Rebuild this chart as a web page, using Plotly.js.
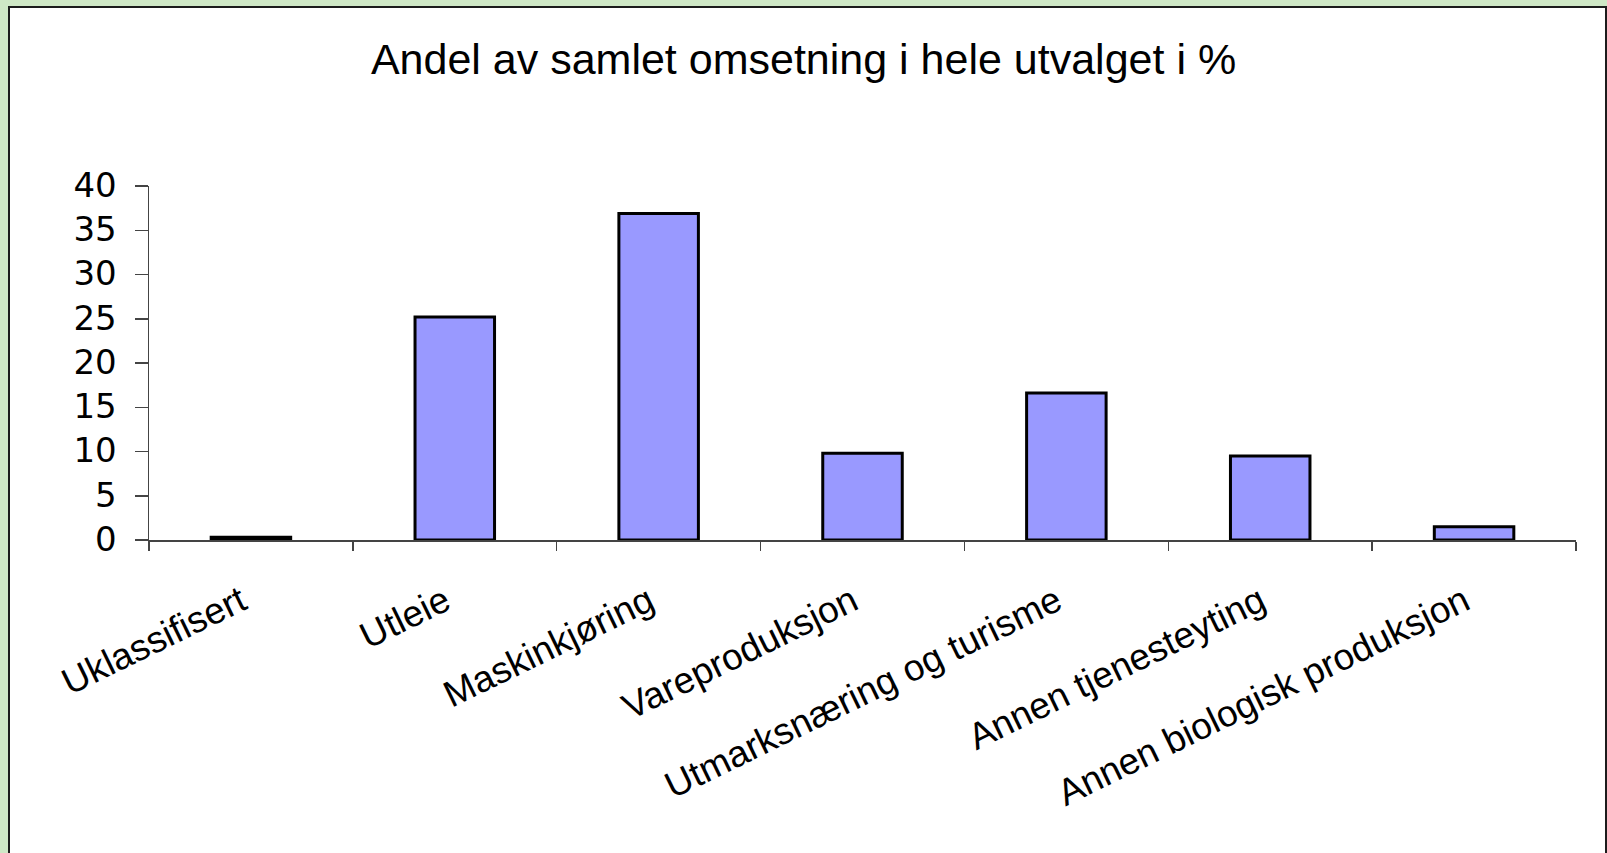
<!DOCTYPE html>
<html>
<head>
<meta charset="utf-8">
<script src="https://cdn.plot.ly/plotly-3.0.1.min.js"></script>
<style>
  html, body { margin: 0; padding: 0; width: 1607px; height: 853px; overflow: hidden; background: #CFE8C6; }
  #frame { position: absolute; left: 8px; top: 6px; width: 1595px; height: 900px; background: #ffffff; border: 2px solid #1c1c1c; }
  #chart { position: absolute; left: 0; top: 0; width: 1607px; height: 853px; }
</style>
</head>
<body>
<div id="frame"></div>
<div id="chart"></div>
<script>
const categories = [
  "Uklassifisert",
  "Utleie",
  "Maskinkjøring",
  "Vareproduksjon",
  "Utmarksnæring og turisme",
  "Annen tjenesteyting",
  "Annen biologisk produksjon"
];
const shares = [0.3, 25.2, 36.9, 9.8, 16.6, 9.5, 1.5];
const yTicks = [0, 5, 10, 15, 20, 25, 30, 35, 40];
const chartTitle = "Andel av samlet omsetning i hele utvalget i %";

const trace = {
  type: "bar",
  x: categories,
  y: shares,
  marker: { color: "#9999FF", line: { color: "#000000", width: 3 } },
  hoverinfo: "x+y"
};

const layout = {
  width: 1607,
  height: 853,
  paper_bgcolor: "rgba(0,0,0,0)",
  plot_bgcolor: "rgba(0,0,0,0)",
  margin: { l: 149, r: 31, t: 186, b: 313 },
  font: { family: "Liberation Sans, Arial, sans-serif", color: "#000000" },
  title: {
    text: chartTitle,
    font: { size: 43, family: "Liberation Sans, Arial, sans-serif", color: "#000000" },
    x: 0.5, xref: "container", xanchor: "center",
    y: 1 - 59 / 853, yref: "container", yanchor: "middle"
  },
  bargap: 0.61,
  showlegend: false,
  xaxis: {
    type: "category",
    tickangle: -26,
    tickson: "boundaries",
    ticks: "outside",
    ticklen: 9,
    tickwidth: 1.5,
    tickcolor: "#444444",
    showline: true,
    linecolor: "#444444",
    linewidth: 1.5,
    showgrid: false,
    zeroline: false,
    ticklabelstandoff: 24,
    ticklabelshift: -10,
    tickfont: { size: 37, family: "Liberation Sans, Arial, sans-serif", color: "#000000" }
  },
  yaxis: {
    range: [0, 40],
    tickvals: yTicks,
    ticktext: yTicks.map(String),
    ticks: "outside",
    ticklen: 13,
    tickwidth: 1.5,
    tickcolor: "#444444",
    showline: true,
    linecolor: "#444444",
    linewidth: 1.5,
    showgrid: false,
    zeroline: false,
    ticklabelstandoff: 11,
    ticklabelshift: -1,
    tickfont: { size: 34, family: "DejaVu Sans, Liberation Sans, sans-serif", color: "#000000" }
  }
};

Plotly.newPlot("chart", [trace], layout, { displayModeBar: false, staticPlot: true });
</script>
</body>
</html>
